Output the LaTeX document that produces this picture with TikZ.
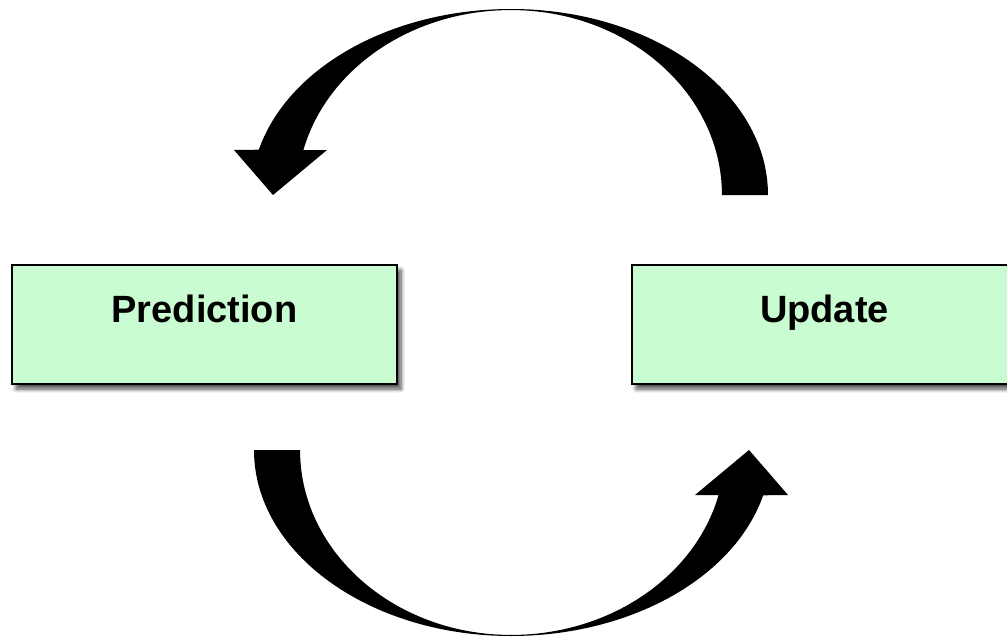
\documentclass[tikz,border=0pt]{standalone}
\usepackage{fontspec}
\setmainfont{Liberation Sans}
\usetikzlibrary{shadows.blur}
\definecolor{box_green}{RGB}{201, 252, 208}
\tikzstyle{bx}=[rectangle,fill=box_green,draw=black,
  line width=2pt,minimum width=385pt,minimum height=119pt,
  text height=27pt,text depth=31pt,font=\fontsize{38}{42}\selectfont\bfseries,
  blur shadow={shadow xshift=4pt,shadow yshift=-5pt,shadow blur steps=6,
  shadow blur radius=4pt,shadow opacity=70}]
\tikzstyle{cyc}=[fill=black,draw=none]
\newcommand{\cyclearrow}{%
  \fill [style=cyc] (722, 195) -- (768, 195)
    arc [start angle=0, end angle=90, x radius=257pt, y radius=186pt]
    arc [start angle=90, end angle=165.9, x radius=260pt, y radius=186pt]
    -- (234, 150) -- (273, 195) -- (327, 150) -- (303.4, 150)
    arc [start angle=165.9, end angle=90, x radius=214pt, y radius=185pt]
    arc [start angle=90, end angle=0, x radius=211pt, y radius=185pt]
    -- cycle;}

\begin{document}
\begin{tikzpicture}[x=1pt, y=-1pt]
    \useasboundingbox (0, 0) rectangle (1007, 637);
    \node [style=bx] (0) at (204.5, 324.5) {Prediction};
    \node [style=bx] (1) at (824.5, 324.5) {Update};
    \cyclearrow
    \begin{scope}[rotate around={180:(511, 322.5)}]
        \cyclearrow
    \end{scope}
\end{tikzpicture}
\end{document}
